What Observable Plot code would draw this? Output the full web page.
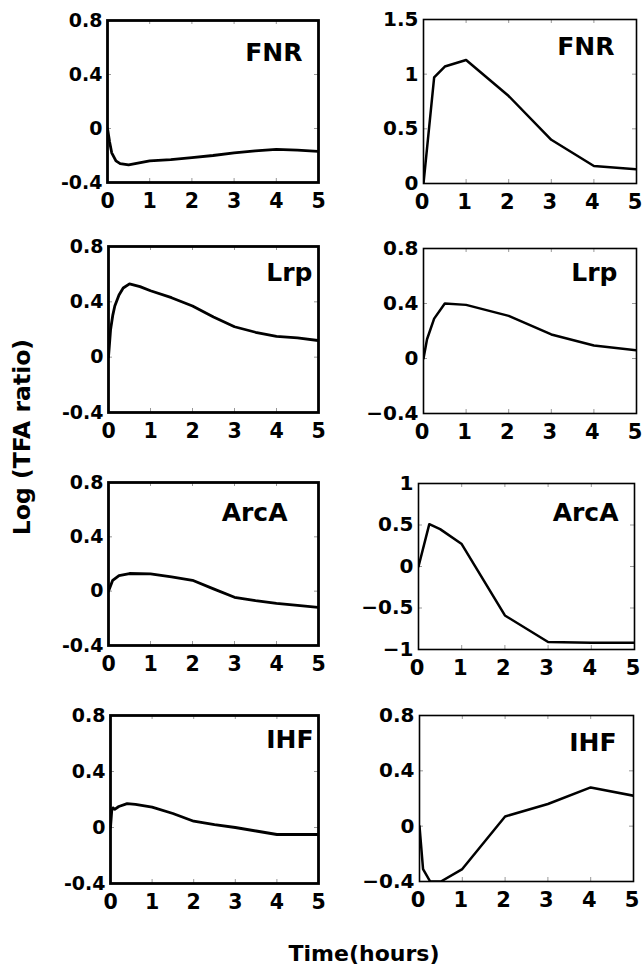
<!DOCTYPE html>
<html><head><meta charset="utf-8">
<script src="https://cdn.jsdelivr.net/npm/d3@7"></script>
<script src="https://cdn.jsdelivr.net/npm/@observablehq/plot@0.6"></script>
<style>
body{margin:0;background:#fff;}
#root{position:relative;width:642px;height:967px;overflow:hidden;font-family:"DejaVu Sans",sans-serif;font-weight:bold;color:#000;}
.panel{position:absolute;}
.lab{position:absolute;white-space:nowrap;font-weight:bold;transform:translate(-50%,-50%);}
</style></head><body><div id="root"></div>
<script>
// x ticks (hours)
const xTicks = [0, 1, 2, 3, 4, 5];
const xInner = [1, 2, 3, 4];
const yTicksLeft = [-0.4, 0, 0.4, 0.8];

// Left column (model) series
const fnrModelT = [0, 0.05, 0.1, 0.2, 0.3, 0.5, 0.75, 1, 1.5, 2, 2.5, 3, 3.5, 4, 4.5, 5];
const fnrModelV = [0, -0.1, -0.18, -0.24, -0.26, -0.27, -0.255, -0.24, -0.23, -0.215, -0.2, -0.18, -0.165, -0.155, -0.16, -0.17];
const lrpModelT = [0, 0.05, 0.1, 0.15, 0.25, 0.35, 0.5, 0.75, 1, 1.5, 2, 2.5, 3, 3.5, 4, 4.5, 5];
const lrpModelV = [0, 0.2, 0.3, 0.37, 0.45, 0.5, 0.53, 0.51, 0.48, 0.43, 0.37, 0.29, 0.22, 0.18, 0.15, 0.14, 0.12];
const arcaModelT = [0, 0.1, 0.25, 0.5, 1, 1.5, 2, 2.5, 3, 3.5, 4, 4.5, 5];
const arcaModelV = [0, 0.08, 0.115, 0.13, 0.127, 0.105, 0.08, 0.017, -0.045, -0.07, -0.09, -0.105, -0.12];
const ihfModelT = [0, 0.03, 0.06, 0.1, 0.2, 0.4, 0.6, 1, 1.5, 2, 2.5, 3, 3.5, 4, 4.5, 5];
const ihfModelV = [0, 0.12, 0.14, 0.13, 0.15, 0.17, 0.165, 0.145, 0.1, 0.045, 0.02, 0.0, -0.025, -0.05, -0.05, -0.05];

// Right column (estimated) series
const expT = [0, 0.083, 0.25, 0.5, 1, 2, 3, 4, 5];
const fnrExpT = [0, 0.25, 0.5, 1, 2, 3, 4, 5];
const fnrExpV = [0, 0.97, 1.07, 1.13, 0.8, 0.4, 0.16, 0.13];
const lrpExpV = [0, 0.14, 0.29, 0.4, 0.39, 0.31, 0.175, 0.095, 0.06];
const arcaExpT = [0, 0.25, 0.5, 1, 2, 3, 4, 5];
const arcaExpV = [0, 0.51, 0.45, 0.27, -0.59, -0.91, -0.92, -0.92];
const ihfExpV = [0, -0.31, -0.4, -0.4, -0.31, 0.07, 0.16, 0.28, 0.22];

const yTicksFnrR = [0, 0.5, 1, 1.5];
const yTicksArcaR = [-1, -0.5, 0, 0.5, 1];

const panels = [
  {side:"left", title:"FNR", t:fnrModelT, v:fnrModelV, yDomain:[-0.4,0.8], yTicks:yTicksLeft, box:[107,20,318,182], tdx:16, tdy:23},
  {side:"right", title:"FNR", t:fnrExpT, v:fnrExpV, yDomain:[0,1.5], yTicks:yTicksFnrR, box:[423,19,636,183], tdx:22, tdy:18},
  {side:"left", title:"Lrp", t:lrpModelT, v:lrpModelV, yDomain:[-0.4,0.8], yTicks:yTicksLeft, box:[108,246,318,412], tdx:6, tdy:17},
  {side:"right", title:"Lrp", t:expT, v:lrpExpV, yDomain:[-0.4,0.8], yTicks:yTicksLeft, box:[423,248,636,413], tdx:19, tdy:15},
  {side:"left", title:"ArcA", t:arcaModelT, v:arcaModelV, yDomain:[-0.4,0.8], yTicks:yTicksLeft, box:[108,482,318,645], tdx:31, tdy:21},
  {side:"right", title:"ArcA", t:arcaExpT, v:arcaExpV, yDomain:[-1,1], yTicks:yTicksArcaR, box:[418,483,634,649], tdx:16, tdy:20},
  {side:"left", title:"IHF", t:ihfModelT, v:ihfModelV, yDomain:[-0.4,0.8], yTicks:yTicksLeft, box:[110,715,318,883], tdx:5, tdy:15},
  {side:"right", title:"IHF", t:expT, v:ihfExpV, yDomain:[-0.4,0.8], yTicks:yTicksLeft, box:[419,715,633,881], tdx:17, tdy:18}
];

const root = document.getElementById("root");
const mL = 60, mR = 10, mT = 8, mB = 36;

for (const p of panels) {
  const w = p.box[2] - p.box[0], h = p.box[3] - p.box[1];
  const data = p.t.map((t, i) => ({t, v: p.v[i]}));
  const left = p.side === "left";
  const fmt = left ? d => String(d) : d => (d < 0 ? "\u2212" : "") + Math.abs(d);
  const yInner = p.yTicks.filter(d => d !== p.yDomain[0] && d !== p.yDomain[1]);
  const chart = Plot.plot({
    width: w + mL + mR, height: h + mT + mB,
    marginLeft: mL, marginRight: mR, marginTop: mT, marginBottom: mB,
    style: {fontFamily: "DejaVu Sans", fontWeight: "bold", color: "#000", background: "transparent", overflow: "visible"},
    x: {domain: [0, 5]},
    y: {domain: p.yDomain},
    marks: [
      Plot.tickX(xInner, {x: d => d, insetTop: h - 4, stroke: "#999", strokeWidth: 1}),
      Plot.tickX(xInner, {x: d => d, insetBottom: h - 4, stroke: "#999", strokeWidth: 1}),
      Plot.tickY(yInner, {y: d => d, insetRight: w - 4, stroke: "#999", strokeWidth: 1}),
      Plot.tickY(yInner, {y: d => d, insetLeft: w - 4, stroke: "#999", strokeWidth: 1}),
      Plot.line(data, {x: "t", y: "v", stroke: "#000", strokeWidth: left ? 2.8 : 2.5, clip: true}),
      Plot.frame({stroke: "#000", strokeWidth: left ? 2.8 : 1.6}),
      Plot.axisX({ticks: xTicks, tickSize: 0, tickPadding: 11, tickFormat: d => String(d), fontSize: left ? 20.5 : 21, dx: left ? 0 : -1.5, fontWeight: "bold", label: null}),
      Plot.axisY({ticks: p.yTicks, tickSize: 0, tickPadding: 5, tickFormat: fmt, fontSize: left ? 19 : 20, fontWeight: "bold", label: null}),
      Plot.text([p.title], {frameAnchor: "top-right", textAnchor: "end", lineAnchor: "top", dx: -p.tdx, dy: p.tdy, fontSize: 25, fontWeight: "bold", fill: "#000"})
    ]
  });
  chart.classList.add("panel");
  chart.style.left = (p.box[0] - mL) + "px";
  chart.style.top = (p.box[1] - mT) + "px";
  root.appendChild(chart);
}

const yl = document.createElement("div");
yl.className = "lab";
yl.textContent = "Log (TFA ratio)";
yl.style.cssText += "left:22px;top:437px;font-size:23.5px;transform:translate(-50%,-50%) rotate(-90deg);";
root.appendChild(yl);

const xl = document.createElement("div");
xl.className = "lab";
xl.textContent = "Time(hours)";
xl.style.cssText += "left:364px;top:953px;font-size:22px;";
root.appendChild(xl);
</script>
</body></html>
